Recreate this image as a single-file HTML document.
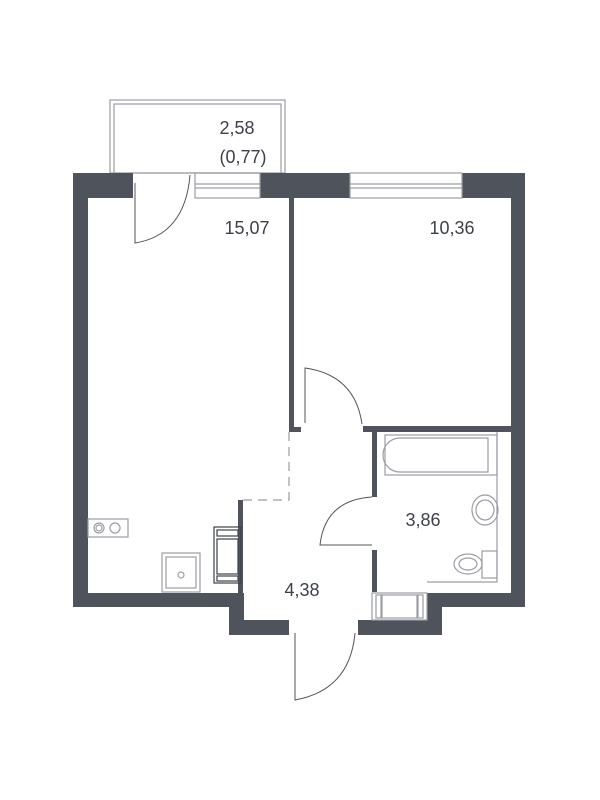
<!DOCTYPE html><html><head><style>body{margin:0;background:#fff}svg{display:block}text{font-family:"Liberation Sans",sans-serif;font-size:18px;fill:#3d414a;text-anchor:middle}</style></head><body>
<svg width="600" height="800" viewBox="0 0 600 800">
<g fill="none" stroke="#9a9da3" stroke-width="1.2">
<rect x="110" y="100" width="175" height="73"/><rect x="114" y="104" width="167" height="69"/>
</g>
<g fill="#4f535c">
<rect x="73" y="173" width="60" height="25"/><rect x="73" y="173" width="15" height="434"/>
<rect x="260" y="173" width="90" height="25"/><rect x="462" y="173" width="63" height="25"/>
<rect x="511" y="173" width="14" height="434"/>
<rect x="289" y="198" width="5" height="234"/><rect x="289" y="427" width="12" height="5"/>
<rect x="363" y="426" width="150" height="6"/>
<rect x="372" y="426" width="5" height="71"/><rect x="372" y="550" width="5" height="42"/>
<rect x="427" y="593" width="98" height="14"/><rect x="427" y="593" width="15" height="42"/>
<rect x="358" y="620" width="84" height="15"/>
<rect x="73" y="593" width="171" height="14"/><rect x="229" y="593" width="15" height="42"/><rect x="229" y="620" width="60" height="15"/>
<rect x="238" y="500" width="5" height="93"/>
</g>
<g fill="none" stroke="#9a9da3" stroke-width="1.2">
<rect x="195" y="173" width="65" height="25"/><line x1="195" y1="184" x2="260" y2="184"/><line x1="195" y1="188" x2="260" y2="188"/>
<rect x="350" y="173" width="112" height="25"/><line x1="350" y1="184" x2="462" y2="184"/><line x1="350" y1="188" x2="462" y2="188"/>
<path d="M289 432V500H243" stroke-dasharray="9,6"/>
<rect x="88" y="519" width="40" height="18"/><circle cx="99" cy="528" r="5"/><circle cx="99" cy="528" r="3"/><circle cx="115" cy="528" r="5"/>
<rect x="162" y="553" width="38" height="39"/><rect x="166" y="557" width="30" height="31"/><circle cx="181" cy="575" r="3"/>
<rect x="385" y="435" width="112" height="40"/><path d="M400 438H488V472H400A17 17 0 0 1 400 438Z"/>
<ellipse cx="485" cy="510" rx="13" ry="15"/><ellipse cx="485" cy="510" rx="9" ry="10"/>
<ellipse cx="468" cy="564" rx="14" ry="10"/><ellipse cx="468" cy="564" rx="9" ry="6"/><rect x="482" y="551" width="15" height="27"/>
<path d="M497 432V582H427"/>
<rect x="372" y="593" width="55" height="27"/><rect x="376" y="595" width="5" height="23"/><rect x="418" y="595" width="5" height="23"/><rect x="382" y="595" width="35" height="23"/>
</g>
<g fill="none" stroke="#3d414a" stroke-width="1.2">
<rect x="214" y="527" width="27" height="56"/><rect x="217" y="530" width="21" height="6"/><rect x="217" y="539" width="21" height="35"/><rect x="217" y="576" width="21" height="5"/>
</g>
<g fill="none" stroke="#555" stroke-width="1">
<path d="M135 183V243Q185 235 190 175"/>
<path d="M305 423V368Q355 375 362 424"/>
<path d="M372 545H320Q325 500 372 497"/>
<path d="M295 633V700Q350 690 355 633"/>
</g>
<text x="237" y="134">2,58</text><text x="243" y="163">(0,77)</text>
<text x="247" y="234">15,07</text><text x="452" y="234">10,36</text>
<text x="423" y="526">3,86</text><text x="302" y="596">4,38</text>
</svg></body></html>
